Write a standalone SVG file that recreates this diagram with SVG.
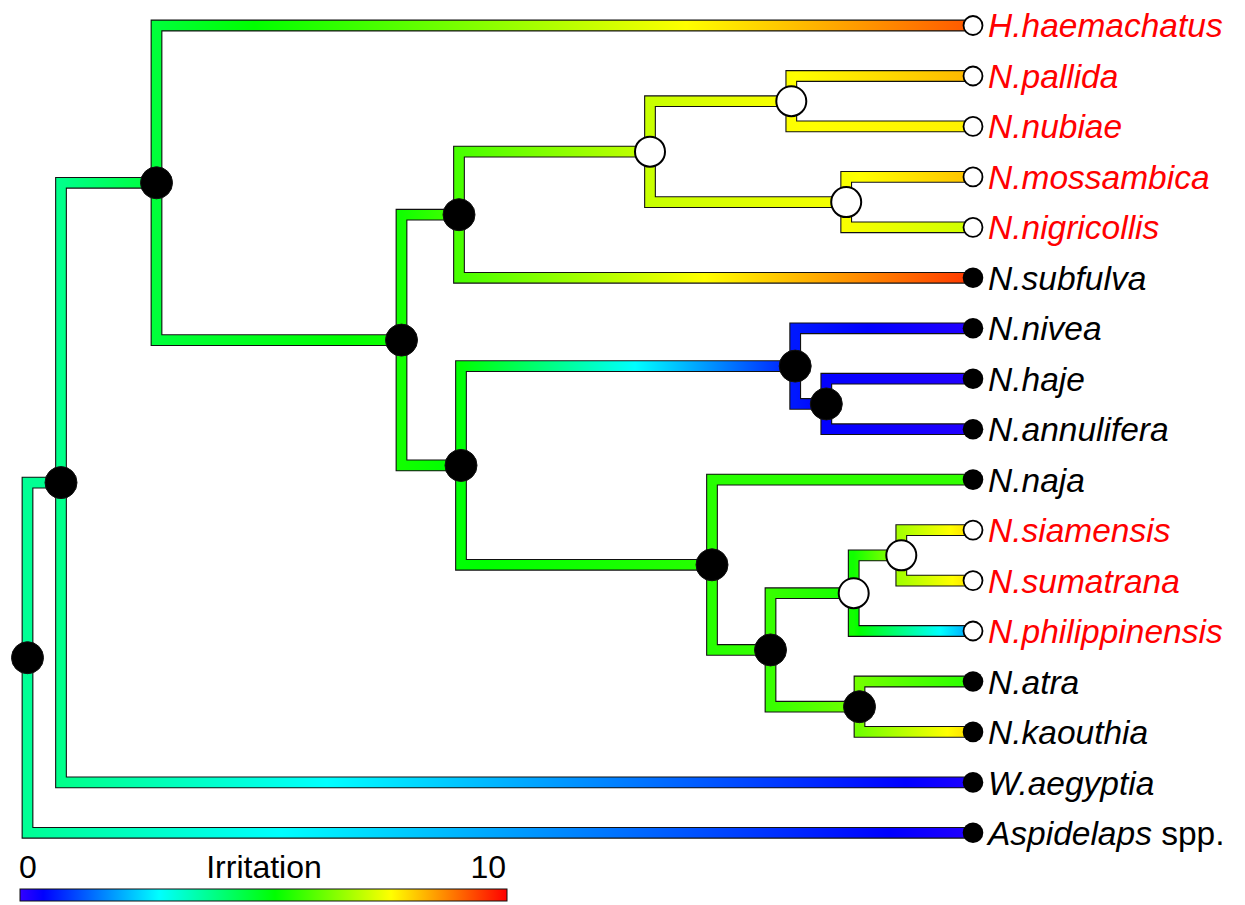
<svg xmlns="http://www.w3.org/2000/svg" width="1245" height="905" viewBox="0 0 1245 905">
  <style>
    .outline { fill: none; stroke: #111; stroke-width: 11.8; stroke-linejoin: miter; stroke-linecap: butt; }
    .branch { fill: none; stroke-width: 9.6; stroke-linejoin: miter; stroke-linecap: butt; }
    .node-b { fill: #000; stroke: #111; stroke-width: 1; }
    .node-w { fill: #fff; stroke: #000; stroke-width: 2; }
    .tip-b { fill: #000; }
    .tip-w { fill: #fff; stroke: #000; stroke-width: 1.8; }
    .lbl { font-family: "Liberation Sans", Arial, sans-serif; font-size: 33.5px; font-style: italic; }
    .spit { fill: #ff0000; }
    .plain { fill: #000; }
    .legend { font-family: "Liberation Sans", Arial, sans-serif; font-size: 32px; fill: #000; }
  </style>
  <defs>
    <!-- branch colour ramps: rainbow from 0 (violet-blue) to 10 (red), along each branch -->
    <linearGradient id="gRA" gradientUnits="userSpaceOnUse" x1="27.5" y1="0" x2="61" y2="0"><stop offset="0" stop-color="#00ff95"/><stop offset="1" stop-color="#00ff8a"/></linearGradient>
    <linearGradient id="gRAsp" gradientUnits="userSpaceOnUse" x1="27.5" y1="0" x2="973" y2="0"><stop offset="0" stop-color="#00ff95"/><stop offset="0.2684" stop-color="#00ffff"/><stop offset="0.9119" stop-color="#0000ff"/><stop offset="1" stop-color="#2300ff"/></linearGradient>
    <linearGradient id="gAB" gradientUnits="userSpaceOnUse" x1="61" y1="0" x2="156.5" y2="0"><stop offset="0" stop-color="#00ff8a"/><stop offset="1" stop-color="#00ff3a"/></linearGradient>
    <linearGradient id="gAW" gradientUnits="userSpaceOnUse" x1="61" y1="0" x2="973" y2="0"><stop offset="0" stop-color="#00ff8a"/><stop offset="0.2915" stop-color="#00ffff"/><stop offset="0.9264" stop-color="#0000ff"/><stop offset="1" stop-color="#1e00ff"/></linearGradient>
    <linearGradient id="gBH" gradientUnits="userSpaceOnUse" x1="156.5" y1="0" x2="973" y2="0"><stop offset="0" stop-color="#00ff3a"/><stop offset="0.1196" stop-color="#00ff00"/><stop offset="0.6487" stop-color="#ffff00"/><stop offset="1" stop-color="#ff5600"/></linearGradient>
    <linearGradient id="gBC" gradientUnits="userSpaceOnUse" x1="156.5" y1="0" x2="401.5" y2="0"><stop offset="0" stop-color="#00ff3a"/><stop offset="0.7686" stop-color="#00ff00"/><stop offset="1" stop-color="#11ff00"/></linearGradient>
    <linearGradient id="gCD" gradientUnits="userSpaceOnUse" x1="401.5" y1="0" x2="459" y2="0"><stop offset="0" stop-color="#11ff00"/><stop offset="1" stop-color="#47ff00"/></linearGradient>
    <linearGradient id="gCE" gradientUnits="userSpaceOnUse" x1="401.5" y1="0" x2="461" y2="0"><stop offset="0" stop-color="#11ff00"/><stop offset="0.81" stop-color="#00ff00"/><stop offset="1" stop-color="#00ff04"/></linearGradient>
    <linearGradient id="gDF" gradientUnits="userSpaceOnUse" x1="459" y1="0" x2="650" y2="0"><stop offset="0" stop-color="#47ff00"/><stop offset="1" stop-color="#c7ff00"/></linearGradient>
    <linearGradient id="gDS" gradientUnits="userSpaceOnUse" x1="459" y1="0" x2="973" y2="0"><stop offset="0" stop-color="#47ff00"/><stop offset="0.4775" stop-color="#ffff00"/><stop offset="1" stop-color="#ff3600"/></linearGradient>
    <linearGradient id="gFG" gradientUnits="userSpaceOnUse" x1="650" y1="0" x2="791.3" y2="0"><stop offset="0" stop-color="#c7ff00"/><stop offset="1" stop-color="#fdff00"/></linearGradient>
    <linearGradient id="gFH" gradientUnits="userSpaceOnUse" x1="650" y1="0" x2="846.2" y2="0"><stop offset="0" stop-color="#c7ff00"/><stop offset="1" stop-color="#f8ff00"/></linearGradient>
    <linearGradient id="gGpal" gradientUnits="userSpaceOnUse" x1="791.3" y1="0" x2="973" y2="0"><stop offset="0" stop-color="#fdff00"/><stop offset="0.027" stop-color="#ffff00"/><stop offset="1" stop-color="#ffb600"/></linearGradient>
    <linearGradient id="gGnub" gradientUnits="userSpaceOnUse" x1="791.3" y1="0" x2="973" y2="0"><stop offset="0" stop-color="#fdff00"/><stop offset="0.127" stop-color="#ffff00"/><stop offset="1" stop-color="#fff100"/></linearGradient>
    <linearGradient id="gHmos" gradientUnits="userSpaceOnUse" x1="846.2" y1="0" x2="973" y2="0"><stop offset="0" stop-color="#f8ff00"/><stop offset="0.106" stop-color="#ffff00"/><stop offset="1" stop-color="#ffc100"/></linearGradient>
    <linearGradient id="gHnig" gradientUnits="userSpaceOnUse" x1="846.2" y1="0" x2="973" y2="0"><stop offset="0" stop-color="#f8ff00"/><stop offset="1" stop-color="#cdff00"/></linearGradient>
    <linearGradient id="gEI" gradientUnits="userSpaceOnUse" x1="461" y1="0" x2="795.2" y2="0"><stop offset="0" stop-color="#00ff04"/><stop offset="0.5207" stop-color="#00ffff"/><stop offset="1" stop-color="#0018ff"/></linearGradient>
    <linearGradient id="gEJ" gradientUnits="userSpaceOnUse" x1="461" y1="0" x2="712" y2="0"><stop offset="0" stop-color="#00ff04"/><stop offset="0.095" stop-color="#00ff00"/><stop offset="1" stop-color="#27ff00"/></linearGradient>
    <linearGradient id="gIniv" gradientUnits="userSpaceOnUse" x1="795.2" y1="0" x2="973" y2="0"><stop offset="0" stop-color="#0018ff"/><stop offset="0.407" stop-color="#0000ff"/><stop offset="1" stop-color="#2300ff"/></linearGradient>
    <linearGradient id="gIK" gradientUnits="userSpaceOnUse" x1="795.2" y1="0" x2="826.3" y2="0"><stop offset="0" stop-color="#0018ff"/><stop offset="0.896" stop-color="#0000ff"/><stop offset="1" stop-color="#0300ff"/></linearGradient>
    <linearGradient id="gKtip" gradientUnits="userSpaceOnUse" x1="826.3" y1="0" x2="973" y2="0"><stop offset="0" stop-color="#0300ff"/><stop offset="1" stop-color="#2300ff"/></linearGradient>
    <linearGradient id="gJnaja" gradientUnits="userSpaceOnUse" x1="712" y1="0" x2="973" y2="0"><stop offset="0" stop-color="#27ff00"/><stop offset="1" stop-color="#32ff00"/></linearGradient>
    <linearGradient id="gJL" gradientUnits="userSpaceOnUse" x1="712" y1="0" x2="770.5" y2="0"><stop offset="0" stop-color="#27ff00"/><stop offset="1" stop-color="#37ff00"/></linearGradient>
    <linearGradient id="gLM" gradientUnits="userSpaceOnUse" x1="770.5" y1="0" x2="853.7" y2="0"><stop offset="0" stop-color="#37ff00"/><stop offset="1" stop-color="#11ff00"/></linearGradient>
    <linearGradient id="gLN" gradientUnits="userSpaceOnUse" x1="770.5" y1="0" x2="859.5" y2="0"><stop offset="0" stop-color="#37ff00"/><stop offset="1" stop-color="#72ff00"/></linearGradient>
    <linearGradient id="gMO" gradientUnits="userSpaceOnUse" x1="853.7" y1="0" x2="901.3" y2="0"><stop offset="0" stop-color="#11ff00"/><stop offset="1" stop-color="#a7ff00"/></linearGradient>
    <linearGradient id="gMphi" gradientUnits="userSpaceOnUse" x1="853.7" y1="0" x2="973" y2="0"><stop offset="0" stop-color="#11ff00"/><stop offset="0.046" stop-color="#00ff00"/><stop offset="0.727" stop-color="#00ffff"/><stop offset="1" stop-color="#0098ff"/></linearGradient>
    <linearGradient id="gOsia" gradientUnits="userSpaceOnUse" x1="901.3" y1="0" x2="973" y2="0"><stop offset="0" stop-color="#a7ff00"/><stop offset="0.6825" stop-color="#ffff00"/><stop offset="1" stop-color="#ffd600"/></linearGradient>
    <linearGradient id="gOsum" gradientUnits="userSpaceOnUse" x1="901.3" y1="0" x2="973" y2="0"><stop offset="0" stop-color="#a7ff00"/><stop offset="0.712" stop-color="#ffff00"/><stop offset="1" stop-color="#ffdc00"/></linearGradient>
    <linearGradient id="gNatr" gradientUnits="userSpaceOnUse" x1="859.5" y1="0" x2="973" y2="0"><stop offset="0" stop-color="#72ff00"/><stop offset="1" stop-color="#27ff00"/></linearGradient>
    <linearGradient id="gNkao" gradientUnits="userSpaceOnUse" x1="859.5" y1="0" x2="973" y2="0"><stop offset="0" stop-color="#72ff00"/><stop offset="0.776" stop-color="#ffff00"/><stop offset="1" stop-color="#ffd600"/></linearGradient>
    <linearGradient id="gScale" x1="0" y1="0" x2="1" y2="0"><stop offset="0" stop-color="#3300ff"/><stop offset="0.0476" stop-color="#0000ff"/><stop offset="0.2857" stop-color="#00ffff"/><stop offset="0.5238" stop-color="#00ff00"/><stop offset="0.7619" stop-color="#ffff00"/><stop offset="1" stop-color="#ff0000"/></linearGradient>
  </defs>

  <rect width="1245" height="905" fill="#fff"/>

  <g id="connectors">
    <!-- black casing under every branch -->
    <g class="casing">
      <path class="outline" d="M27.5,657.7 V482.6 H61"/>
      <path class="outline" d="M27.5,657.7 V832.8 H973"/>
      <path class="outline" d="M61,482.6 V182.8 H156.5"/>
      <path class="outline" d="M61,482.6 V782.4 H973"/>
      <path class="outline" d="M156.5,182.8 V25.5 H973"/>
      <path class="outline" d="M156.5,182.8 V340.1 H401.5"/>
      <path class="outline" d="M401.5,340.1 V214.7 H459"/>
      <path class="outline" d="M401.5,340.1 V465.4 H461"/>
      <path class="outline" d="M459,214.7 V151.65 H650"/>
      <path class="outline" d="M459,214.7 V277.8 H973"/>
      <path class="outline" d="M650,151.65 V101.2 H791.3"/>
      <path class="outline" d="M650,151.65 V202.1 H846.2"/>
      <path class="outline" d="M791.3,101.2 V76 H973"/>
      <path class="outline" d="M791.3,101.2 V126.4 H973"/>
      <path class="outline" d="M846.2,202.1 V176.9 H973"/>
      <path class="outline" d="M846.2,202.1 V227.3 H973"/>
      <path class="outline" d="M461,465.4 V366.1 H795.2"/>
      <path class="outline" d="M461,465.4 V564.8 H712"/>
      <path class="outline" d="M795.2,366.1 V328.3 H973"/>
      <path class="outline" d="M795.2,366.1 V403.95 H826.3"/>
      <path class="outline" d="M826.3,403.95 V378.7 H973"/>
      <path class="outline" d="M826.3,403.95 V429.2 H973"/>
      <path class="outline" d="M712,564.8 V479.6 H973"/>
      <path class="outline" d="M712,564.8 V649.95 H770.5"/>
      <path class="outline" d="M770.5,649.95 V593.2 H853.7"/>
      <path class="outline" d="M770.5,649.95 V706.7 H859.5"/>
      <path class="outline" d="M853.7,593.2 V555.35 H901.3"/>
      <path class="outline" d="M853.7,593.2 V631 H973"/>
      <path class="outline" d="M901.3,555.35 V530.1 H973"/>
      <path class="outline" d="M901.3,555.35 V580.6 H973"/>
      <path class="outline" d="M859.5,706.7 V681.5 H973"/>
      <path class="outline" d="M859.5,706.7 V731.9 H973"/>
    </g>
    <!-- coloured fill of every branch -->
    <g class="fills">
      <path class="branch" stroke="url(#gRA)" d="M27.5,657.7 V482.6 H61"/>
      <path class="branch" stroke="url(#gRAsp)" d="M27.5,657.7 V832.8 H973"/>
      <path class="branch" stroke="url(#gAB)" d="M61,482.6 V182.8 H156.5"/>
      <path class="branch" stroke="url(#gAW)" d="M61,482.6 V782.4 H973"/>
      <path class="branch" stroke="url(#gBH)" d="M156.5,182.8 V25.5 H973"/>
      <path class="branch" stroke="url(#gBC)" d="M156.5,182.8 V340.1 H401.5"/>
      <path class="branch" stroke="url(#gCD)" d="M401.5,340.1 V214.7 H459"/>
      <path class="branch" stroke="url(#gCE)" d="M401.5,340.1 V465.4 H461"/>
      <path class="branch" stroke="url(#gDF)" d="M459,214.7 V151.65 H650"/>
      <path class="branch" stroke="url(#gDS)" d="M459,214.7 V277.8 H973"/>
      <path class="branch" stroke="url(#gFG)" d="M650,151.65 V101.2 H791.3"/>
      <path class="branch" stroke="url(#gFH)" d="M650,151.65 V202.1 H846.2"/>
      <path class="branch" stroke="url(#gGpal)" d="M791.3,101.2 V76 H973"/>
      <path class="branch" stroke="url(#gGnub)" d="M791.3,101.2 V126.4 H973"/>
      <path class="branch" stroke="url(#gHmos)" d="M846.2,202.1 V176.9 H973"/>
      <path class="branch" stroke="url(#gHnig)" d="M846.2,202.1 V227.3 H973"/>
      <path class="branch" stroke="url(#gEI)" d="M461,465.4 V366.1 H795.2"/>
      <path class="branch" stroke="url(#gEJ)" d="M461,465.4 V564.8 H712"/>
      <path class="branch" stroke="url(#gIniv)" d="M795.2,366.1 V328.3 H973"/>
      <path class="branch" stroke="url(#gIK)" d="M795.2,366.1 V403.95 H826.3"/>
      <path class="branch" stroke="url(#gKtip)" d="M826.3,403.95 V378.7 H973"/>
      <path class="branch" stroke="url(#gKtip)" d="M826.3,403.95 V429.2 H973"/>
      <path class="branch" stroke="url(#gJnaja)" d="M712,564.8 V479.6 H973"/>
      <path class="branch" stroke="url(#gJL)" d="M712,564.8 V649.95 H770.5"/>
      <path class="branch" stroke="url(#gLM)" d="M770.5,649.95 V593.2 H853.7"/>
      <path class="branch" stroke="url(#gLN)" d="M770.5,649.95 V706.7 H859.5"/>
      <path class="branch" stroke="url(#gMO)" d="M853.7,593.2 V555.35 H901.3"/>
      <path class="branch" stroke="url(#gMphi)" d="M853.7,593.2 V631 H973"/>
      <path class="branch" stroke="url(#gOsia)" d="M901.3,555.35 V530.1 H973"/>
      <path class="branch" stroke="url(#gOsum)" d="M901.3,555.35 V580.6 H973"/>
      <path class="branch" stroke="url(#gNatr)" d="M859.5,706.7 V681.5 H973"/>
      <path class="branch" stroke="url(#gNkao)" d="M859.5,706.7 V731.9 H973"/>
    </g>
  </g>

  <!-- internal nodes -->
  <g id="node-root"><circle class="node-b" cx="27.5" cy="657.7" r="16"/></g>
  <g id="node-A"><circle class="node-b" cx="61" cy="482.6" r="16"/></g>
  <g id="node-B"><circle class="node-b" cx="156.5" cy="182.8" r="16"/></g>
  <g id="node-C"><circle class="node-b" cx="401.5" cy="340.1" r="16"/></g>
  <g id="node-D"><circle class="node-b" cx="459" cy="214.7" r="16"/></g>
  <g id="node-F"><circle class="node-w" cx="650" cy="151.65" r="15"/></g>
  <g id="node-G"><circle class="node-w" cx="791.3" cy="101.2" r="15"/></g>
  <g id="node-H"><circle class="node-w" cx="846.2" cy="202.1" r="15"/></g>
  <g id="node-E"><circle class="node-b" cx="461" cy="465.4" r="16"/></g>
  <g id="node-I"><circle class="node-b" cx="795.2" cy="366.1" r="16"/></g>
  <g id="node-K"><circle class="node-b" cx="826.3" cy="403.95" r="16"/></g>
  <g id="node-J"><circle class="node-b" cx="712" cy="564.8" r="16"/></g>
  <g id="node-L"><circle class="node-b" cx="770.5" cy="649.95" r="16"/></g>
  <g id="node-M"><circle class="node-w" cx="853.7" cy="593.2" r="15"/></g>
  <g id="node-O"><circle class="node-w" cx="901.3" cy="555.35" r="15"/></g>
  <g id="node-N"><circle class="node-b" cx="859.5" cy="706.7" r="16"/></g>

  <!-- tips -->
  <g id="tip-haemachatus"><circle class="tip-w" cx="973" cy="25.5" r="9.5"/><text class="lbl spit" x="988" y="37">H.haemachatus</text></g>
  <g id="tip-pallida"><circle class="tip-w" cx="973" cy="76" r="9.5"/><text class="lbl spit" x="988" y="87.5">N.pallida</text></g>
  <g id="tip-nubiae"><circle class="tip-w" cx="973" cy="126.4" r="9.5"/><text class="lbl spit" x="988" y="138">N.nubiae</text></g>
  <g id="tip-mossambica"><circle class="tip-w" cx="973" cy="176.9" r="9.5"/><text class="lbl spit" x="988" y="188.5">N.mossambica</text></g>
  <g id="tip-nigricollis"><circle class="tip-w" cx="973" cy="227.3" r="9.5"/><text class="lbl spit" x="988" y="239">N.nigricollis</text></g>
  <g id="tip-subfulva"><circle class="tip-b" cx="973" cy="277.8" r="10.3"/><text class="lbl plain" x="988" y="289.5">N.subfulva</text></g>
  <g id="tip-nivea"><circle class="tip-b" cx="973" cy="328.3" r="10.3"/><text class="lbl plain" x="988" y="340">N.nivea</text></g>
  <g id="tip-haje"><circle class="tip-b" cx="973" cy="378.7" r="10.3"/><text class="lbl plain" x="988" y="390.5">N.haje</text></g>
  <g id="tip-annulifera"><circle class="tip-b" cx="973" cy="429.2" r="10.3"/><text class="lbl plain" x="988" y="441">N.annulifera</text></g>
  <g id="tip-naja"><circle class="tip-b" cx="973" cy="479.6" r="10.3"/><text class="lbl plain" x="988" y="491.5">N.naja</text></g>
  <g id="tip-siamensis"><circle class="tip-w" cx="973" cy="530.1" r="9.5"/><text class="lbl spit" x="988" y="542">N.siamensis</text></g>
  <g id="tip-sumatrana"><circle class="tip-w" cx="973" cy="580.6" r="9.5"/><text class="lbl spit" x="988" y="592.5">N.sumatrana</text></g>
  <g id="tip-philippinensis"><circle class="tip-w" cx="973" cy="631" r="9.5"/><text class="lbl spit" x="988" y="643">N.philippinensis</text></g>
  <g id="tip-atra"><circle class="tip-b" cx="973" cy="681.5" r="10.3"/><text class="lbl plain" x="988" y="693.5">N.atra</text></g>
  <g id="tip-kaouthia"><circle class="tip-b" cx="973" cy="731.9" r="10.3"/><text class="lbl plain" x="988" y="744">N.kaouthia</text></g>
  <g id="tip-aegyptia"><circle class="tip-b" cx="973" cy="782.4" r="10.3"/><text class="lbl plain" x="988" y="794.5">W.aegyptia</text></g>
  <g id="tip-aspidelaps"><circle class="tip-b" cx="973" cy="832.8" r="10.3"/><text class="lbl plain" x="988" y="845">Aspidelaps<tspan font-style="normal"> spp.</tspan></text></g>

  <!-- colour scale -->
  <g id="legend">
    <text class="legend" x="19" y="878">0</text>
    <text class="legend" x="264" y="878" text-anchor="middle">Irritation</text>
    <text class="legend" x="506" y="878" text-anchor="end">10</text>
    <rect x="20" y="889" width="487" height="12" fill="url(#gScale)" stroke="#111" stroke-width="1"/>
  </g>
</svg>
